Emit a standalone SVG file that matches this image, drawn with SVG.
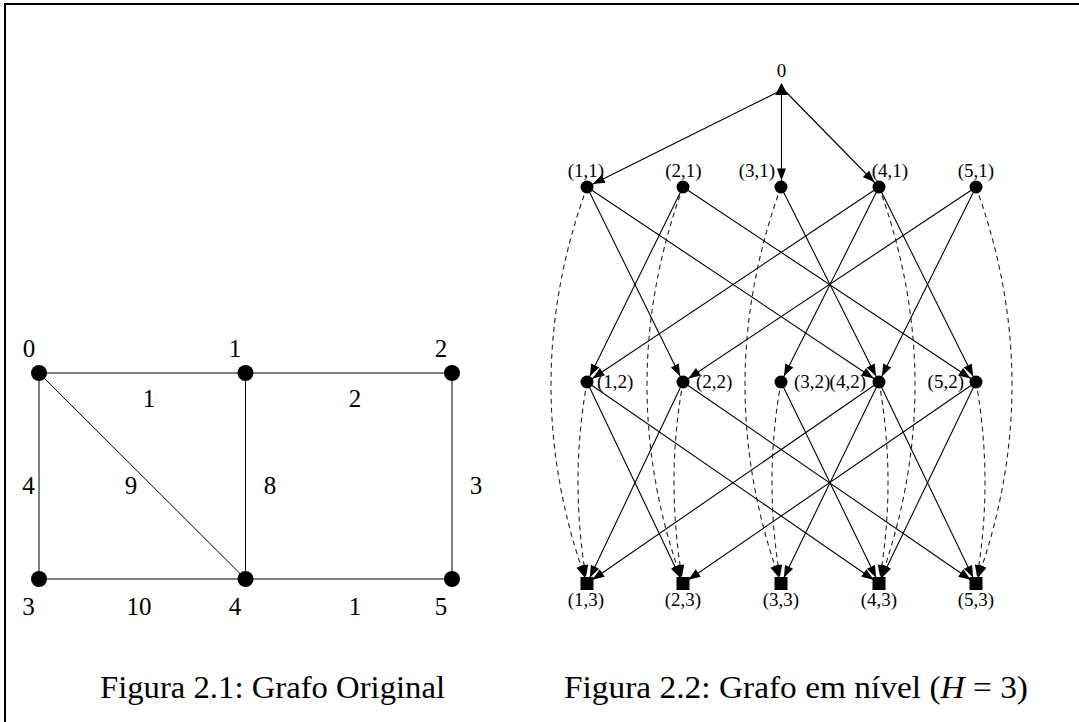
<svg xmlns="http://www.w3.org/2000/svg" width="1079" height="722" viewBox="0 0 1079 722">
<style>
text{font-family:"Liberation Serif","Times New Roman",serif;fill:#000}
.lg{font-size:25px;text-anchor:middle}
.lb{font-size:19px}
.c{text-anchor:middle}
.e{text-anchor:end}
.cap{font-size:31px}
.ge{stroke:#000;stroke-width:1;fill:none}
.s{stroke:#000;stroke-width:1.1;fill:none;marker-end:url(#ah)}
.d{stroke:#222;stroke-width:1.1;fill:none;stroke-dasharray:5 4;marker-end:url(#ah)}
.n{fill:#000}
</style>
<defs>
<marker id="ah" markerUnits="userSpaceOnUse" markerWidth="14" markerHeight="10" refX="18.5" refY="4.5" orient="auto" overflow="visible">
<path d="M0,0 L12,4.5 L0,9 z" fill="#000"/>
</marker>
</defs>
<rect width="1079" height="722" fill="#fff"/>
<g id="frame">
<path d="M5,722 V4 H1079" stroke="#000" stroke-width="2" fill="none"/>
</g>

<!-- Left graph -->
<g id="g1-edges">
<line class="ge" x1="39" y1="373" x2="245.5" y2="373"/>
<line class="ge" x1="245.5" y1="373" x2="452" y2="373"/>
<line class="ge" x1="39" y1="373" x2="39" y2="579"/>
<line class="ge" x1="39" y1="373" x2="245.5" y2="579"/>
<line class="ge" x1="245.5" y1="373" x2="245.5" y2="579"/>
<line class="ge" x1="452" y1="373" x2="452" y2="579"/>
<line class="ge" x1="39" y1="579" x2="245.5" y2="579"/>
<line class="ge" x1="245.5" y1="579" x2="452" y2="579"/>
</g>
<g id="g1-edge-labels">
<text class="lg" x="149" y="407">1</text>
<text class="lg" x="355" y="407">2</text>
<text class="lg" x="28.5" y="494">4</text>
<text class="lg" x="131" y="494">9</text>
<text class="lg" x="270" y="494">8</text>
<text class="lg" x="476" y="494">3</text>
<text class="lg" x="139" y="615">10</text>
<text class="lg" x="355" y="615">1</text>
</g>
<g id="g1-n0"><circle class="n" cx="39" cy="373" r="8"/><text class="lg" x="29" y="357">0</text></g>
<g id="g1-n1"><circle class="n" cx="245.5" cy="373" r="8"/><text class="lg" x="235" y="357">1</text></g>
<g id="g1-n2"><circle class="n" cx="452" cy="373" r="8"/><text class="lg" x="441" y="357">2</text></g>
<g id="g1-n3"><circle class="n" cx="39" cy="579" r="8"/><text class="lg" x="28.5" y="615">3</text></g>
<g id="g1-n4"><circle class="n" cx="245.5" cy="579" r="8"/><text class="lg" x="235" y="615">4</text></g>
<g id="g1-n5"><circle class="n" cx="452" cy="579" r="8"/><text class="lg" x="441" y="615">5</text></g>

<!-- Level graph connectors -->
<g id="connectors">
<!-- root -->
<line class="s" x1="778" y1="92" x2="587" y2="187"/>
<line class="s" x1="781.5" y1="95" x2="781.5" y2="187"/>
<line class="s" x1="786" y1="92" x2="879" y2="187"/>
<!-- level 1 to 2 -->
<line class="s" x1="587" y1="187" x2="683" y2="382"/>
<line class="s" x1="587" y1="187" x2="879" y2="382"/>
<line class="s" x1="683" y1="187" x2="587" y2="382"/>
<line class="s" x1="683" y1="187" x2="976" y2="382"/>
<line class="s" x1="781" y1="187" x2="879" y2="382"/>
<line class="s" x1="879" y1="187" x2="587" y2="382"/>
<line class="s" x1="879" y1="187" x2="781" y2="382"/>
<line class="s" x1="879" y1="187" x2="976" y2="382"/>
<line class="s" x1="976" y1="187" x2="683" y2="382"/>
<line class="s" x1="976" y1="187" x2="879" y2="382"/>
<!-- level 2 to 3 -->
<line class="s" x1="587" y1="382" x2="683" y2="583.5"/>
<line class="s" x1="587" y1="382" x2="879" y2="583.5"/>
<line class="s" x1="683" y1="382" x2="587" y2="583.5"/>
<line class="s" x1="683" y1="382" x2="976" y2="583.5"/>
<line class="s" x1="781" y1="382" x2="879" y2="583.5"/>
<line class="s" x1="879" y1="382" x2="587" y2="583.5"/>
<line class="s" x1="879" y1="382" x2="781" y2="583.5"/>
<line class="s" x1="879" y1="382" x2="976" y2="583.5"/>
<line class="s" x1="976" y1="382" x2="683" y2="583.5"/>
<line class="s" x1="976" y1="382" x2="879" y2="583.5"/>
<!-- dashed waiting arcs level 1 to 3 -->
<path class="d" d="M587,187 Q515,385 587,583.5"/>
<path class="d" d="M683,187 Q611,385 683,583.5"/>
<path class="d" d="M781,187 Q709,385 781,583.5"/>
<path class="d" d="M879,187 Q951,385 879,583.5"/>
<path class="d" d="M976,187 Q1048,385 976,583.5"/>
<!-- dashed waiting arcs level 2 to 3 -->
<path class="d" d="M587,382 Q569,482 587,583.5"/>
<path class="d" d="M683,382 Q665,482 683,583.5"/>
<path class="d" d="M781,382 Q763,482 781,583.5"/>
<path class="d" d="M879,382 Q897,482 879,583.5"/>
<path class="d" d="M976,382 Q994,482 976,583.5"/>
</g>

<!-- Level graph nodes -->
<g id="root"><path class="n" d="M781.5,83 L788,95 L775,95 z"/><text class="lb c" x="781.5" y="77">0</text></g>
<g id="n11"><circle class="n" cx="587" cy="187" r="6.5"/><text class="lb c" x="586" y="177">(1,1)</text></g>
<g id="n21"><circle class="n" cx="683" cy="187" r="6.5"/><text class="lb c" x="683.5" y="177">(2,1)</text></g>
<g id="n31"><circle class="n" cx="781" cy="187" r="6.5"/><text class="lb c" x="757" y="177">(3,1)</text></g>
<g id="n41"><circle class="n" cx="879" cy="187" r="6.5"/><text class="lb c" x="890" y="177">(4,1)</text></g>
<g id="n51"><circle class="n" cx="976" cy="187" r="6.5"/><text class="lb c" x="976" y="177">(5,1)</text></g>

<g id="n12"><circle class="n" cx="587" cy="382" r="6.5"/><text class="lb" x="597" y="388">(1,2)</text></g>
<g id="n22"><circle class="n" cx="683" cy="382" r="6.5"/><text class="lb" x="696" y="388">(2,2)</text></g>
<g id="n32"><circle class="n" cx="781" cy="382" r="6.5"/><text class="lb" x="794" y="388">(3,2)</text></g>
<g id="n42"><circle class="n" cx="879" cy="382" r="6.5"/><text class="lb e" x="866" y="388">(4,2)</text></g>
<g id="n52"><circle class="n" cx="976" cy="382" r="6.5"/><text class="lb e" x="964" y="388">(5,2)</text></g>

<g id="n13"><rect class="n" x="580.5" y="577" width="13" height="13"/><text class="lb c" x="586" y="606">(1,3)</text></g>
<g id="n23"><rect class="n" x="676.5" y="577" width="13" height="13"/><text class="lb c" x="683" y="606">(2,3)</text></g>
<g id="n33"><rect class="n" x="774.5" y="577" width="13" height="13"/><text class="lb c" x="781" y="606">(3,3)</text></g>
<g id="n43"><rect class="n" x="872.5" y="577" width="13" height="13"/><text class="lb c" x="879" y="606">(4,3)</text></g>
<g id="n53"><rect class="n" x="969.5" y="577" width="13" height="13"/><text class="lb c" x="976" y="606">(5,3)</text></g>

<g id="captions">
<text class="cap" x="100" y="698" textLength="345" lengthAdjust="spacingAndGlyphs">Figura 2.1: Grafo Original</text>
<text class="cap" x="564" y="698" textLength="464" lengthAdjust="spacingAndGlyphs">Figura 2.2: Grafo em nível (<tspan font-style="italic">H</tspan> = 3)</text>
</g>
</svg>
